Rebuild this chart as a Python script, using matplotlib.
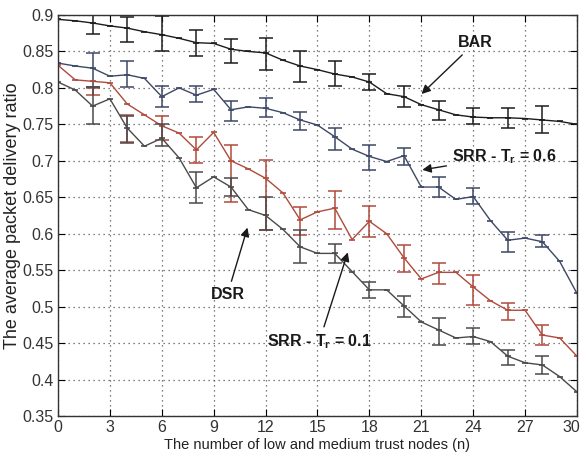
import numpy as np
import matplotlib
matplotlib.use("Agg")
import matplotlib.pyplot as plt
from matplotlib.transforms import ScaledTranslation

# number of low / medium trust nodes
n = np.arange(0, 31)
n_err = np.arange(2, 30, 2)

bar = [0.894, 0.892, 0.889, 0.885, 0.882, 0.877, 0.873, 0.868, 0.862, 0.861, 0.853,
       0.850, 0.848, 0.838, 0.830, 0.825, 0.819, 0.815, 0.808, 0.792, 0.788,
       0.777, 0.770, 0.763, 0.760, 0.759, 0.759, 0.758, 0.756, 0.754, 0.750]
bar_lo = [0.874, 0.863, 0.851, 0.844, 0.834, 0.824, 0.808, 0.803, 0.797, 0.774, 0.756, 0.750, 0.745, 0.738]
bar_hi = [0.900, 0.897, 0.898, 0.880, 0.867, 0.869, 0.851, 0.837, 0.819, 0.803, 0.782, 0.773, 0.772, 0.775]

srr06 = [0.834, 0.830, 0.827, 0.816, 0.818, 0.813, 0.788, 0.800, 0.790, 0.798, 0.770,
         0.774, 0.772, 0.766, 0.756, 0.749, 0.733, 0.716, 0.706, 0.699, 0.707,
         0.664, 0.664, 0.647, 0.651, 0.618, 0.591, 0.594, 0.589, 0.562, 0.518]
srr06_lo = [0.801, 0.801, 0.774, 0.781, 0.755, 0.760, 0.742, 0.715, 0.687, 0.694, 0.651, 0.641, 0.575, 0.582]
srr06_hi = [0.848, 0.837, 0.803, 0.803, 0.782, 0.786, 0.767, 0.745, 0.722, 0.717, 0.678, 0.663, 0.603, 0.598]

srr01 = [0.831, 0.811, 0.809, 0.807, 0.778, 0.763, 0.748, 0.738, 0.715, 0.739, 0.700,
         0.689, 0.676, 0.656, 0.619, 0.630, 0.635, 0.592, 0.617, 0.600, 0.567,
         0.538, 0.547, 0.547, 0.527, 0.508, 0.495, 0.495, 0.461, 0.457, 0.432]
srr01_lo = [0.790, 0.726, 0.728, 0.697, 0.644, 0.605, 0.598, 0.607, 0.596, 0.548, 0.531, 0.502, 0.482, 0.447]
srr01_hi = [0.800, 0.763, 0.762, 0.732, 0.722, 0.701, 0.637, 0.658, 0.638, 0.585, 0.560, 0.543, 0.505, 0.475]

dsr = [0.808, 0.797, 0.775, 0.785, 0.745, 0.720, 0.731, 0.704, 0.663, 0.678, 0.664,
       0.633, 0.625, 0.606, 0.582, 0.573, 0.573, 0.548, 0.523, 0.523, 0.501,
       0.479, 0.468, 0.457, 0.459, 0.452, 0.432, 0.423, 0.420, 0.404, 0.383]
dsr_lo = [0.750, 0.724, 0.720, 0.642, 0.652, 0.605, 0.560, 0.560, 0.512, 0.486, 0.447, 0.449, 0.420, 0.408]
dsr_hi = [0.801, 0.762, 0.750, 0.684, 0.676, 0.651, 0.605, 0.586, 0.534, 0.515, 0.484, 0.470, 0.440, 0.432]

plt.rcParams["font.family"] = ["Liberation Sans", "DejaVu Sans"]
plt.rcParams["mathtext.fontset"] = "custom"
plt.rcParams["mathtext.rm"] = "Liberation Sans:bold"

fig = plt.figure(figsize=(5.84, 4.65), dpi=100)
ax = fig.add_axes([0.0993, 0.1054, 0.8887, 0.8624])

series = [
    (bar, bar_lo, bar_hi, "#1c1c1c"),
    (srr06, srr06_lo, srr06_hi, "#3d4866"),
    (srr01, srr01_lo, srr01_hi, "#b04a3c"),
    (dsr, dsr_lo, dsr_hi, "#4a4a4a"),
]
for y, lo, hi, c in series:
    ax.plot(n, y, color=c, lw=1.0, marker="_", ms=5, mew=1.2)
    lo = np.array(lo)
    hi = np.array(hi)
    ax.errorbar(n_err, (lo + hi) / 2, yerr=(hi - lo) / 2, fmt="none",
                ecolor=c, elinewidth=1.1, capsize=5, capthick=1.1)

ax.set_xlim(0, 30)
ax.set_ylim(0.35, 0.9)
ax.set_xticks(np.arange(0, 31, 3))
ax.set_yticks(np.arange(0.35, 0.91, 0.05))
ax.set_yticklabels(["0.35", "0.4", "0.45", "0.5", "0.55", "0.6", "0.65",
                    "0.7", "0.75", "0.8", "0.85", "0.9"])
ax.tick_params(direction="in", top=True, right=True, labelsize=11.5, length=5, pad=3,
               labelcolor="#333333")
ax.grid(True, linestyle=(0, (1, 3)), color="#555555", lw=0.9)
for s in ax.spines.values():
    s.set_linewidth(1.0)
    s.set_color("#333333")

# keep the last x tick label inside the figure
last = ax.get_xticklabels()[-1]
last.set_transform(last.get_transform() + ScaledTranslation(-4 / 72, 0, fig.dpi_scale_trans))

ax.set_xlabel("The number of low and medium trust nodes (n)", fontsize=10.5,
              labelpad=2, color="#222222")
ax.set_ylabel("The average packet delivery ratio", fontsize=13, labelpad=1,
              color="#222222")

akw = dict(fontsize=11.5, fontweight="bold", color="#1a1a1a")
arr = dict(arrowstyle="-|>", color="#1a1a1a", lw=1.0, mutation_scale=13)
ax.annotate("BAR", xy=(20.9, 0.789), xytext=(24.1, 0.862), ha="center", va="center",
            arrowprops=arr, **akw)
ax.annotate(r"SRR - T$_\mathregular{r}$ = 0.6", xy=(20.9, 0.687), xytext=(25.8, 0.706),
            ha="center", va="center", arrowprops=arr, **akw)
ax.annotate("DSR", xy=(11.0, 0.612), xytext=(9.8, 0.517), ha="center", va="center",
            arrowprops=arr, **akw)
ax.annotate(r"SRR - T$_\mathregular{r}$ = 0.1", xy=(16.8, 0.578), xytext=(15.1, 0.452),
            ha="center", va="center", arrowprops=arr, **akw)

fig.savefig("out.png", dpi=100)
